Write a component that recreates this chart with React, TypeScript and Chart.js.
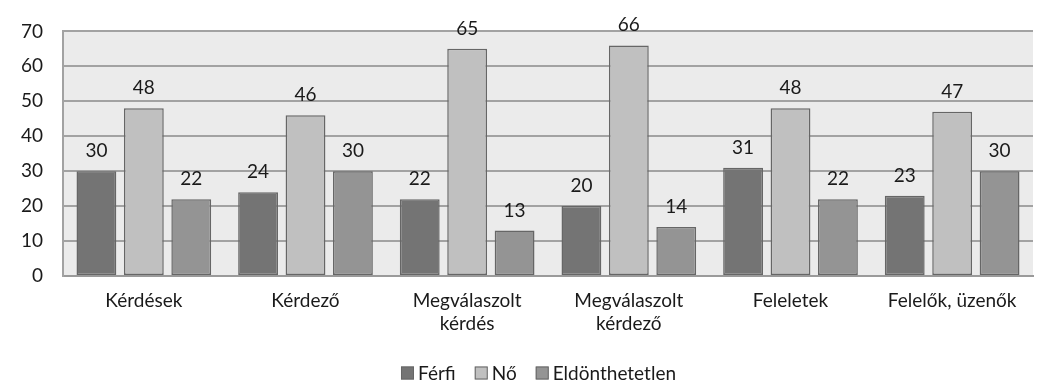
import { useEffect, useRef } from "react";
import { Chart, registerables } from "chart.js";

Chart.register(...registerables);

const categories: (string | string[])[] = [
  "Kérdések",
  "Kérdező",
  ["Megválaszolt", "kérdés"],
  ["Megválaszolt", "kérdező"],
  "Feleletek",
  "Felelők, üzenők",
];
const seriesNames = ["Férfi", "Nő", "Eldönthetetlen"];
const ferfi = [30, 24, 22, 20, 31, 23];
const no = [48, 46, 65, 66, 48, 47];
const eldonthetetlen = [22, 30, 13, 14, 22, 30];
const yTicks = [0, 10, 20, 30, 40, 50, 60, 70];

const FONT = "Lato, 'Open Sans', sans-serif";
const FONT_SIZE = 19;
const TEXT = "#1a1a1a";
const fills = ["#747474", "#c0c0c0", "#949494"];
const edge = "#666666";

const plotBackground = {
  id: "plotBackground",
  beforeDraw(chart: Chart) {
    const { ctx, chartArea } = chart;
    ctx.save();
    ctx.fillStyle = "#ebebeb";
    ctx.fillRect(chartArea.left, chartArea.top, chartArea.right - chartArea.left, chartArea.bottom - chartArea.top);
    ctx.restore();
  },
};

const valueLabels = {
  id: "valueLabels",
  afterDatasetsDraw(chart: Chart) {
    const { ctx } = chart;
    ctx.save();
    ctx.font = `${FONT_SIZE}px ${FONT}`;
    ctx.fillStyle = TEXT;
    ctx.textAlign = "center";
    ctx.textBaseline = "alphabetic";
    chart.data.datasets.forEach((ds, i) => {
      const meta = chart.getDatasetMeta(i);
      meta.data.forEach((el: any, j: number) => {
        const v = ds.data[j] as number;
        ctx.fillText(String(v), el.x, el.y - 14);
      });
    });
    ctx.restore();
  },
};

const bottomLegend = {
  id: "bottomLegend",
  afterDraw(chart: Chart) {
    const { ctx } = chart;
    ctx.save();
    ctx.font = `${FONT_SIZE}px ${FONT}`;
    const box = 13;
    const textGap = 4;
    const itemGap = 19;
    const items = chart.data.datasets.map((ds) => ({
      label: ds.label as string,
      color: ds.backgroundColor as string,
      w: ctx.measureText(ds.label as string).width,
    }));
    const total =
      items.reduce((s, it) => s + box + textGap + it.w, 0) + itemGap * (items.length - 1);
    let x = 538.5 - total / 2;
    const cy = 373;
    items.forEach((it) => {
      ctx.fillStyle = it.color;
      ctx.fillRect(x, cy - box / 2, box, box);
      ctx.strokeStyle = edge;
      ctx.lineWidth = 1;
      ctx.strokeRect(x + 0.5, cy - box / 2 + 0.5, box - 1, box - 1);
      ctx.fillStyle = TEXT;
      ctx.textBaseline = "middle";
      ctx.textAlign = "left";
      ctx.fillText(it.label, x + box + textGap, cy + 1);
      x += box + textGap + it.w + itemGap;
    });
    ctx.restore();
  },
};

export default function App() {
  const canvasRef = useRef<HTMLCanvasElement | null>(null);

  useEffect(() => {
    document.body.style.margin = "0";
    const canvas = canvasRef.current;
    if (!canvas) return;
    const seriesValues = [ferfi, no, eldonthetetlen];
    const chart = new Chart(canvas, {
      type: "bar",
      data: {
        labels: categories,
        datasets: seriesNames.map((name, i) => ({
          label: name,
          data: seriesValues[i],
          backgroundColor: fills[i],
          borderColor: edge,
          borderWidth: 1.5,
          borderSkipped: false,
          barPercentage: 0.84,
          categoryPercentage: 0.88,
        })),
      },
      options: {
        responsive: false,
        animation: false,
        layout: { padding: { left: 0, right: 10, top: 15, bottom: 0 } },
        plugins: {
          legend: { display: false },
          tooltip: { enabled: false },
        },
        scales: {
          x: {
            grid: { display: false, drawTicks: false },
            border: { display: true, color: "#9a9a9a", width: 2 },
            ticks: {
              color: TEXT,
              padding: 13,
              maxRotation: 0,
              autoSkip: false,
              font: { family: FONT, size: FONT_SIZE, lineHeight: 1.21 },
            },
            afterFit(scale: any) {
              scale.height = 111;
            },
          },
          y: {
            min: 0,
            max: 70,
            afterBuildTicks(scale: any) {
              scale.ticks = yTicks.map((v) => ({ value: v }));
            },
            grid: { color: "#a2a2a2", lineWidth: 2, drawTicks: false },
            border: { display: true, color: "#a2a2a2", width: 2 },
            ticks: {
              color: TEXT,
              padding: 20,
              font: { family: FONT, size: FONT_SIZE },
            },
            afterFit(scale: any) {
              scale.width = 63;
            },
          },
        },
      },
      plugins: [plotBackground, valueLabels, bottomLegend],
    });
    return () => chart.destroy();
  }, []);

  return (
    <div style={{ width: 1043, height: 387 }}>
      <canvas ref={canvasRef} width={1043} height={387} style={{ display: "block" }} />
    </div>
  );
}
